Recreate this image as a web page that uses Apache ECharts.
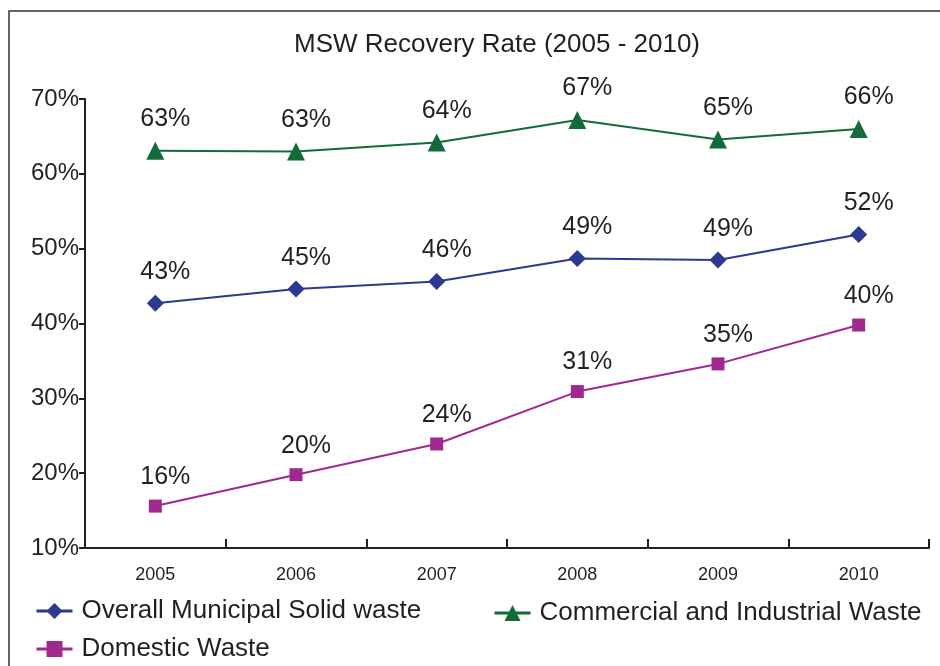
<!DOCTYPE html>
<html>
<head>
<meta charset="utf-8">
<script src="https://cdn.jsdelivr.net/npm/echarts@6/dist/echarts.min.js"></script>
<style>
  html, body { margin: 0; padding: 0; background: #fff; }
  #main { width: 940px; height: 666px; }
</style>
</head>
<body>
<div id="main"></div>
<script>
// data
const years = ['2005', '2006', '2007', '2008', '2009', '2010'];
const overallMsw = [42.7, 44.6, 45.6, 48.7, 48.5, 51.9];
const commercialIndustrial = [63.1, 63.0, 64.2, 67.2, 64.6, 66.0];
const domestic = [15.6, 19.8, 23.9, 30.9, 34.6, 39.8];
const yTicks = [10, 20, 30, 40, 50, 60, 70];

const font = 'Liberation Sans, Arial, sans-serif';
const axisColor = '#231f20';

function lineSeries(name, data, color, symbol, size) {
    return {
        name: name,
        type: 'line',
        data: data,
        symbol: symbol,
        symbolSize: size,
        itemStyle: { color: color },
        lineStyle: { color: color, width: 2 },
        label: {
            show: true,
            position: 'top',
            distance: 10,
            offset: [10, 0],
            color: '#231f20',
            fontFamily: font,
            fontSize: 25,
            formatter: p => Math.round(p.value) + '%'
        }
    };
}

function legendAt(name, left, top) {
    return {
        data: [name],
        left: left,
        top: top,
        itemWidth: 36,
        itemHeight: 20,
        lineStyle: { width: 3 },
        textStyle: { fontFamily: font, fontSize: 26, color: '#231f20', padding: [0, 0, 0, 4] }
    };
}

let chart = echarts.init(document.getElementById('main'));
chart.setOption({
    animation: false,
    title: {
        text: 'MSW Recovery Rate (2005 - 2010)',
        left: 492,
        top: 27,
        textAlign: 'center',
        textStyle: { fontFamily: font, fontSize: 26, fontWeight: 'normal', color: '#231f20' }
    },
    graphic: [{
        type: 'rect',
        shape: { x: 9, y: 11, width: 1000, height: 1000 },
        style: { fill: null, stroke: '#333', lineWidth: 1.5 }
    }],
    legend: [
        legendAt('Overall Municipal Solid waste', 30, 593),
        legendAt('Commercial and Industrial Waste', 488, 595),
        legendAt('Domestic Waste', 30, 631)
    ],
    grid: { left: 85, right: 11, top: 99, bottom: 118 },
    xAxis: {
        type: 'category',
        data: years,
        boundaryGap: true,
        axisLine: { show: true, lineStyle: { color: axisColor, width: 2 } },
        axisTick: { show: true, interval: 0, inside: true, length: 9, lineStyle: { color: axisColor, width: 2 } },
        axisLabel: { margin: 18, color: '#231f20', fontFamily: font, fontSize: 18 }
    },
    yAxis: {
        type: 'value',
        min: yTicks[0],
        max: yTicks[yTicks.length - 1],
        interval: 10,
        splitLine: { show: false },
        axisLine: { show: true, lineStyle: { color: axisColor, width: 2 } },
        axisTick: { show: true, length: 6, lineStyle: { color: axisColor, width: 2 } },
        axisLabel: {
            margin: 6,
            color: '#231f20',
            fontFamily: font,
            fontSize: 24,
            formatter: v => v + '%'
        }
    },
    series: [
        lineSeries('Overall Municipal Solid waste', overallMsw, '#2b3990', 'diamond', 17),
        lineSeries('Commercial and Industrial Waste', commercialIndustrial, '#136b3a', 'triangle', 18),
        lineSeries('Domestic Waste', domestic, '#a0288f', 'rect', 13)
    ]
});
</script>
</body>
</html>
